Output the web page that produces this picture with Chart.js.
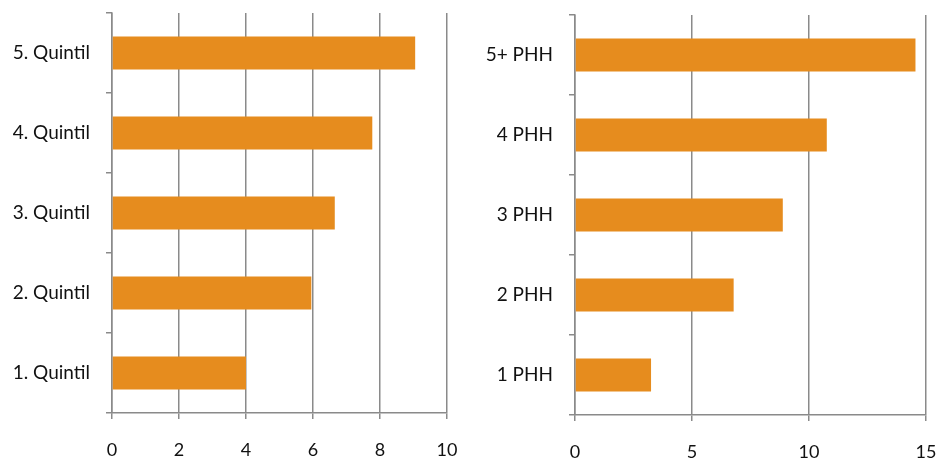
<!DOCTYPE html>
<html>
<head>
<meta charset="utf-8">
<script src="https://cdn.jsdelivr.net/npm/chart.js@4/dist/chart.umd.min.js"></script>
<style>
  html, body { margin: 0; padding: 0; background: #fff; }
  .box { position: absolute; top: 0; width: 470px; height: 460px; }
  #left { left: 0; }
  #right { left: 470px; }
</style>
</head>
<body>
<div class="box" id="left"><canvas id="quintilChart"></canvas></div>
<div class="box" id="right"><canvas id="phhChart"></canvas></div>
<script>
// Data
const quintilLabels = ['1. Quintil', '2. Quintil', '3. Quintil', '4. Quintil', '5. Quintil'];
const quintilValues = [4.0, 5.95, 6.65, 7.77, 9.05];

const phhLabels = ['1 PHH', '2 PHH', '3 PHH', '4 PHH', '5+ PHH'];
const phhValues = [3.25, 6.78, 8.88, 10.76, 14.55];

const barColor = '#E68C1E';
const lineColor = '#8a8a8a';
const fontFamily = 'Lato, "Open Sans", sans-serif';

function makeChart(canvasId, labels, values, xMax, xStep, yWidth, pad) {
  return new Chart(document.getElementById(canvasId), {
    type: 'bar',
    data: {
      labels: labels,
      datasets: [{
        data: values,
        backgroundColor: barColor,
        borderWidth: 0,
        categoryPercentage: 1,
        barPercentage: 0.41
      }]
    },
    options: {
      indexAxis: 'y',
      responsive: true,
      maintainAspectRatio: false,
      animation: false,
      layout: { padding: pad },
      plugins: {
        legend: { display: false },
        tooltip: { enabled: false }
      },
      scales: {
        x: {
          min: 0,
          max: xMax,
          ticks: {
            stepSize: xStep,
            padding: 20,
            color: '#111',
            font: { family: fontFamily, size: 18 }
          },
          grid: {
            color: lineColor,
            lineWidth: 1.5,
            tickLength: 6,
            drawOnChartArea: true
          },
          border: { display: true, color: lineColor, width: 1.5 },
          afterFit: function(scale) {
            scale.height = 460 - pad.top - 400;
            scale.paddingLeft = 0;
            scale.paddingRight = 0;
          }
        },
        y: {
          reverse: true,
          ticks: {
            padding: 16,
            color: '#111',
            font: { family: fontFamily, size: 19 }
          },
          grid: {
            offset: true,
            color: lineColor,
            lineWidth: 1.5,
            tickLength: 6,
            drawOnChartArea: false
          },
          border: { display: true, color: lineColor, width: 1.5 },
          afterFit: function(scale) {
            scale.width = yWidth;
            scale.paddingTop = 0;
            scale.paddingBottom = 0;
          }
        }
      }
    }
  });
}

makeChart('quintilChart', quintilLabels, quintilValues, 10, 2, 112,
  { left: 0, right: 23, top: 13, bottom: 0 });

makeChart('phhChart', phhLabels, phhValues, 15, 5, 105,
  { left: 0, right: 14, top: 15, bottom: 0 });
</script>
</body>
</html>
